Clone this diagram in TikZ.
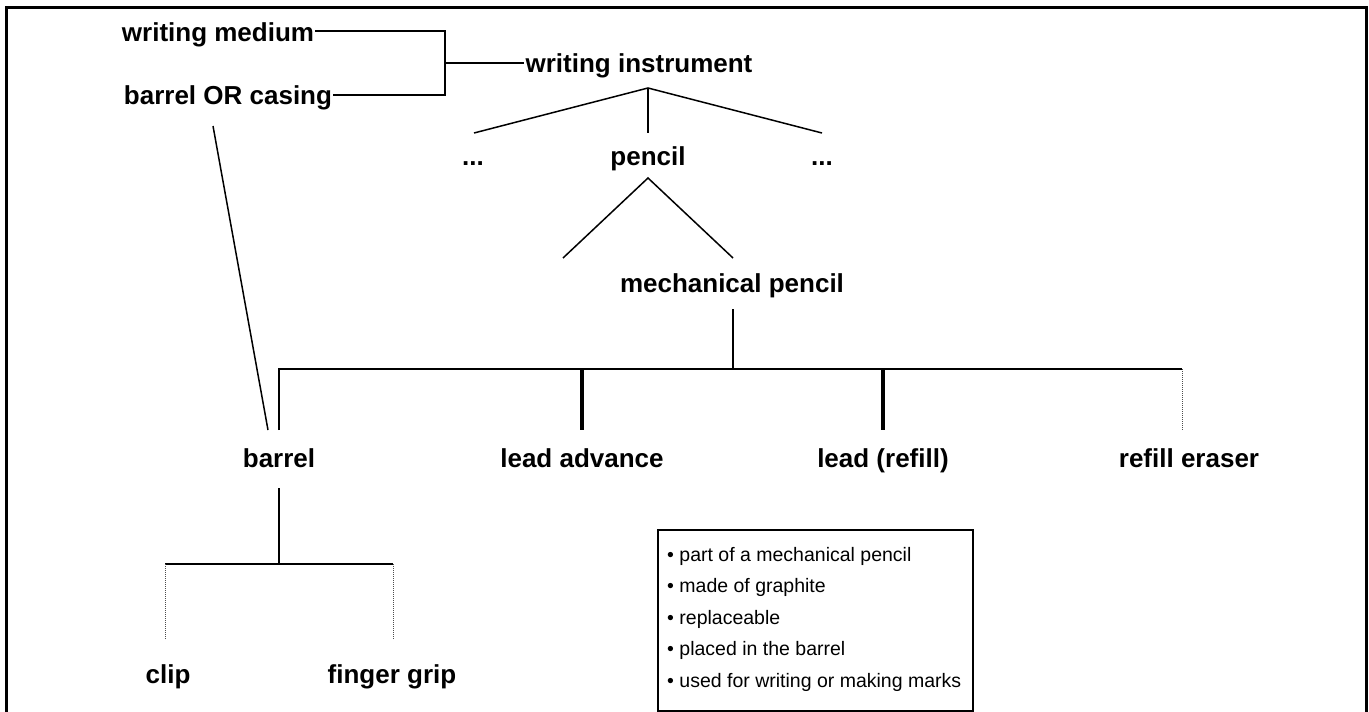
\documentclass[tikz,border=0pt]{standalone}
\usepackage{fontspec}
\setmainfont{Liberation Sans}
\begin{document}
\begin{tikzpicture}[x=1pt,y=-1pt,
  lbl/.style={font=\fontsize{26}{30}\selectfont\bfseries, inner sep=1pt, anchor=base},
  thin/.style={line width=1.5pt},
  thick/.style={line width=3.5pt},
  dotline/.style={line width=1pt, densely dotted, black!70}]
\useasboundingbox (0,0) rectangle (1369,712);
% frame
\draw[line width=3pt] (6,714) -- (6,7) -- (1366,7) -- (1366,714);
% labels
\node[lbl] (wm) at (218,41) {writing medium};
\node[lbl] (bc) at (228,104) {barrel OR casing};
\node[lbl] (wi) at (639,72) {writing instrument};
\node[lbl] (dl) at (473,165) {...};
\node[lbl] (pe) at (648,165) {pencil};
\node[lbl] (dr) at (822,165) {...};
\node[lbl] (mp) at (732,292) {mechanical pencil};
\node[lbl] (ba) at (279,467) {barrel};
\node[lbl] (la) at (582,467) {lead advance};
\node[lbl] (lr) at (883,467) {lead (refill)};
\node[lbl] (re) at (1189,467) {refill eraser};
\node[lbl] (cl) at (168,683) {clip};
\node[lbl] (fg) at (392,683) {finger grip};
% bracket
\coordinate (j1) at (445,31);
\coordinate (j2) at (445,95);
\coordinate (j) at (445,63);
\draw[thin] (wm.east |- j1) -- (j1) -- (j2) -- (bc.east |- j2);
\draw[thin] (j) -- (wi.west |- j);
% writing instrument to children
\coordinate (wib) at (648,88);
\coordinate (dlt) at (474,133);
\coordinate (pet) at (648,133);
\coordinate (drt) at (822,133);
\draw[thin] (dlt) -- (wib) -- (drt);
\draw[thin] (wib) -- (pet);
% pencil
\coordinate (peb) at (648,178);
\coordinate (pl) at (563,258);
\coordinate (pr) at (733,258);
\draw[thin] (pl) -- (peb) -- (pr);
% mechanical pencil
\coordinate (mpb) at (733,309);
\coordinate (h0) at (733,369);
\coordinate (hb) at (279,369);
\coordinate (hla) at (582,368);
\coordinate (hlr) at (883,368);
\coordinate (hre) at (1182,369);
\coordinate (bat) at (279,430);
\coordinate (lat) at (582,430);
\coordinate (lrt) at (883,430);
\coordinate (ret) at (1182,430);
\draw[thin] (mpb) -- (h0);
\draw[thin] (bat) -- (hb) -- (hre);
\draw[thick] (hla) -- (lat);
\draw[thick] (hlr) -- (lrt);
\draw[dotline] (hre) -- (ret);
% barrel OR casing to barrel
\coordinate (bcb) at (213,126);
\coordinate (bal) at (268,430);
\draw[thin] (bcb) -- (bal);
% barrel children
\coordinate (bab) at (279,488);
\coordinate (bh) at (279,564);
\coordinate (hcl) at (165,564);
\coordinate (hfg) at (393,564);
\coordinate (clt) at (165,640);
\coordinate (fgt) at (393,640);
\draw[thin] (bab) -- (bh);
\draw[thin] (hcl) -- (hfg);
\draw[dotline] (hcl) -- (clt);
\draw[dotline] (hfg) -- (fgt);
% box
\node[draw, line width=2pt, minimum width=315pt, minimum height=181pt, anchor=north west, inner sep=0pt] (box) at (657,529) {};
\node[anchor=north west, align=left, inner sep=0pt, font=\fontsize{19.5}{31.5}\selectfont] (bt) at (667,547)
{• part of a mechanical pencil\\• made of graphite\\• replaceable\\• placed in the barrel\\• used for writing or making marks};
\end{tikzpicture}
\end{document}
